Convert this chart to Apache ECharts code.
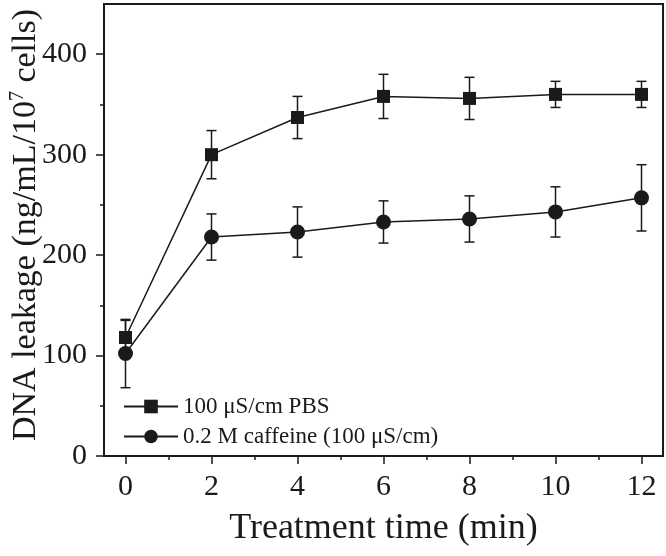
<!DOCTYPE html>
<html>
<head>
<meta charset="utf-8">
<script src="https://cdn.jsdelivr.net/npm/echarts@6/dist/echarts.min.js"></script>
<style>html,body{margin:0;padding:0;background:#fff}#c{width:666px;height:556px}</style>
</head>
<body>
<div id="c"></div>
<script>
const times = [0, 2, 4, 6, 8, 10, 12];
const pbsMean = [118, 300, 337, 358, 356, 360, 360];
const pbsErr = [17, 24, 21, 22, 21, 13, 13];
const cafMean = [102, 218, 223, 233, 236, 243, 257];
const cafErr = [34, 23, 25, 21, 23, 25, 33];
const xMajor = [0, 2, 4, 6, 8, 10, 12];
const xMinor = [1, 3, 5, 7, 9, 11];
const yMajor = [0, 100, 200, 300, 400];
const yMinor = [50, 150, 250, 350];
const seriesNames = ['100 \u03bcS/cm PBS', '0.2 M caffeine (100 \u03bcS/cm)'];

const ink = '#1a1a1a';
const font = 'Liberation Serif';

function errData(mean, err) {
  return times.map((t, i) => [t, mean[i] - err[i], mean[i] + err[i]]);
}
function errSeries(mean, err) {
  return {
    type: 'custom',
    silent: true,
    z: 1,
    data: errData(mean, err),
    encode: { x: 0, y: [1, 2] },
    renderItem: function (params, api) {
      const x = api.value(0);
      const lo = api.coord([x, api.value(1)]);
      const hi = api.coord([x, api.value(2)]);
      const hw = 5;
      const st = { stroke: ink, lineWidth: 1.5 };
      return {
        type: 'group',
        children: [
          { type: 'line', shape: { x1: lo[0], y1: lo[1], x2: hi[0], y2: hi[1] }, style: st },
          { type: 'line', shape: { x1: lo[0] - hw, y1: lo[1], x2: lo[0] + hw, y2: lo[1] }, style: st },
          { type: 'line', shape: { x1: hi[0] - hw, y1: hi[1], x2: hi[0] + hw, y2: hi[1] }, style: st }
        ]
      };
    }
  };
}

const axisLine = { show: true, onZero: false, lineStyle: { color: ink, width: 2 } };
const chart = echarts.init(document.getElementById('c'));
chart.setOption({
  animation: false,
  backgroundColor: '#fff',
  grid: { left: 104, right: 3, top: 4, bottom: 100, show: true, borderColor: ink, borderWidth: 2, containLabel: false, outerBoundsMode: 'none' },
  legend: {
    orient: 'vertical',
    left: 118,
    top: 390,
    itemWidth: 54,
    itemHeight: 17,
    itemGap: 7,
    data: seriesNames,
    textStyle: { fontFamily: font, fontSize: 23, color: ink, lineHeight: 23 }
  },
  xAxis: [
    {
      type: 'value', min: -0.5, max: 12.5,
      axisLine: axisLine,
      splitLine: { show: false },
      axisTick: { show: true, inside: false, length: 8, customValues: xMajor, lineStyle: { color: ink, width: 1.5 } },
      axisLabel: { customValues: xMajor, fontFamily: font, fontSize: 30, color: ink, margin: 16 },
      name: 'Treatment time (min)',
      nameLocation: 'middle',
      nameGap: 55,
      nameMoveOverlap: false,
      nameTextStyle: { fontFamily: font, fontSize: 36, color: ink }
    },
    {
      type: 'value', min: -0.5, max: 12.5, position: 'bottom',
      axisLine: { show: false, onZero: false },
      splitLine: { show: false },
      axisTick: { show: true, length: 4, customValues: xMinor, lineStyle: { color: ink, width: 1.5 } },
      axisLabel: { show: false }
    }
  ],
  yAxis: [
    {
      type: 'value', min: 0, max: 450,
      axisLine: axisLine,
      splitLine: { show: false },
      axisTick: { show: true, length: 8, customValues: yMajor, lineStyle: { color: ink, width: 1.5 } },
      axisLabel: { customValues: yMajor, fontFamily: font, fontSize: 30, color: ink, margin: 17 },
      name: 'DNA leakage (ng/mL/10{sup|7} cells)',
      nameLocation: 'middle',
      nameGap: 60,
      nameRotate: 90,
      nameMoveOverlap: false,
      nameTextStyle: {
        fontFamily: font, fontSize: 34, color: ink, padding: [0, 0, 0, 10],
        rich: { sup: { fontFamily: font, fontSize: 20, color: ink, verticalAlign: 'top', padding: [0, 0, 16, 0] } }
      }
    },
    {
      type: 'value', min: 0, max: 450, position: 'left',
      axisLine: { show: false, onZero: false },
      splitLine: { show: false },
      axisTick: { show: true, length: 4, customValues: yMinor, lineStyle: { color: ink, width: 1.5 } },
      axisLabel: { show: false }
    }
  ],
  series: [
    errSeries(pbsMean, pbsErr),
    errSeries(cafMean, cafErr),
    {
      name: seriesNames[0], type: 'line', z: 3,
      data: times.map((t, i) => [t, pbsMean[i]]),
      symbol: 'rect', symbolSize: 13,
      itemStyle: { color: ink },
      lineStyle: { color: ink, width: 1.5 }
    },
    {
      name: seriesNames[1], type: 'line', z: 3,
      data: times.map((t, i) => [t, cafMean[i]]),
      symbol: 'circle', symbolSize: 15,
      itemStyle: { color: ink },
      lineStyle: { color: ink, width: 1.5 }
    }
  ]
});
</script>
</body>
</html>
